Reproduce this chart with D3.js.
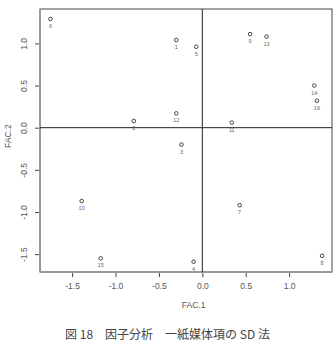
<!DOCTYPE html>
<html>
<head>
<meta charset="utf-8">
<script src="https://cdn.jsdelivr.net/npm/d3@7"></script>
<style>
  body { margin: 0; background: #fff; }
  svg { display: block; }
</style>
</head>
<body>
<div id="chart"></div>
<script>
// factor scores
var labels = ["1", "2", "3", "4", "5", "6", "7", "8", "9", "10", "11", "12", "13", "14", "15", "16"];
var fac1 = [-0.30, -0.79, -0.24, -0.10, -0.07, -1.75, 0.43, 1.38, 0.55, -1.39, 0.34, -0.30, 0.74, 1.29, -1.17, 1.32];
var fac2 = [1.04, 0.08, -0.20, -1.59, 0.96, 1.29, -0.92, -1.52, 1.11, -0.87, 0.06, 0.17, 1.08, 0.50, -1.55, 0.32];
var xTicks = [-1.5, -1.0, -0.5, 0.0, 0.5, 1.0];
var yTicks = [-1.5, -1.0, -0.5, 0.0, 0.5, 1.0];
var caption = "図 18　因子分析　一紙媒体項の SD 法";

var W = 335, H = 342;
var margin = { top: 9, right: 3, bottom: 70, left: 40 },
    width = W - margin.left - margin.right,
    height = H - margin.top - margin.bottom;

var x = d3.scaleLinear().domain([-1.87, 1.494]).range([0, width]);
var y = d3.scaleLinear().domain([-1.712, 1.408]).range([height, 0]);

var svg = d3.select("#chart").append("svg")
    .attr("width", W)
    .attr("height", H);

var g = svg.append("g")
    .attr("transform", "translate(" + margin.left + "," + margin.top + ")");

// R prints a plain hyphen for negatives
var fmt = function(v) { return d3.format(".1f")(v).replace("\u2212", "-"); };

// X axis
var xAxis = g.append("g")
    .attr("transform", "translate(0," + height + ")")
    .call(d3.axisBottom(x).tickValues(xTicks).tickFormat(fmt).tickSize(5).tickPadding(6));
xAxis.select(".domain").remove();
xAxis.selectAll("line").attr("stroke", "#444");
xAxis.selectAll("text")
    .style("font-family", "Liberation Sans, Arial, sans-serif")
    .style("font-size", "8.5px")
    .attr("fill", "#555");

// Y axis, labels rotated like R
var yAxis = g.append("g")
    .call(d3.axisLeft(y).tickValues(yTicks).tickFormat(fmt).tickSize(5).tickPadding(0));
yAxis.select(".domain").remove();
yAxis.selectAll("line").attr("stroke", "#444");
yAxis.selectAll("text")
    .attr("x", 0).attr("dy", 0)
    .attr("text-anchor", "middle")
    .attr("transform", "translate(-13,0) rotate(-90)")
    .style("font-family", "Liberation Sans, Arial, sans-serif")
    .style("font-size", "8.5px")
    .attr("fill", "#555");

// box
g.append("rect")
    .attr("width", width)
    .attr("height", height)
    .attr("fill", "none")
    .attr("stroke", "#444")
    .attr("stroke-width", 1);
g.append("line")
    .attr("x1", 0).attr("x2", 0).attr("y1", 0).attr("y2", height)
    .attr("stroke", "#999").attr("stroke-width", 2);
g.append("line")
    .attr("x1", 0).attr("x2", width).attr("y1", height).attr("y2", height)
    .attr("stroke", "#999").attr("stroke-width", 2);

// zero lines
g.append("line")
    .attr("x1", x(0)).attr("x2", x(0)).attr("y1", 0).attr("y2", height)
    .attr("stroke", "#222");
g.append("line")
    .attr("x1", 0).attr("x2", width).attr("y1", y(0)).attr("y2", y(0))
    .attr("stroke", "#222");

// points
var data = labels.map(function(l, i) { return { label: l, a: fac1[i], b: fac2[i] }; });

g.selectAll("circle.pt")
    .data(data)
    .enter().append("circle")
    .attr("class", "pt")
    .attr("cx", function(d) { return x(d.a); })
    .attr("cy", function(d) { return y(d.b); })
    .attr("r", 1.8)
    .attr("fill", "none")
    .attr("stroke", "#333")
    .attr("stroke-width", 0.9);

g.selectAll("text.lab")
    .data(data)
    .enter().append("text")
    .attr("class", "lab")
    .attr("x", function(d) { return x(d.a); })
    .attr("y", function(d) { return y(d.b) + 9; })
    .attr("text-anchor", "middle")
    .text(function(d) { return d.label; })
    .style("font-family", "Liberation Sans, Arial, sans-serif")
    .style("font-size", "5.5px")
    .attr("fill", "#666");

// axis titles
svg.append("text")
    .attr("text-anchor", "middle")
    .attr("x", margin.left + x(-0.1))
    .attr("y", 308)
    .text("FAC.1")
    .style("font-family", "Liberation Sans, Arial, sans-serif")
    .style("font-size", "8.5px")
    .attr("fill", "#555");

svg.append("text")
    .attr("text-anchor", "middle")
    .attr("transform", "translate(11," + (margin.top + y(-0.1)) + ") rotate(-90)")
    .text("FAC.2")
    .style("font-family", "Liberation Sans, Arial, sans-serif")
    .style("font-size", "8.5px")
    .attr("fill", "#555");

// caption
svg.append("text")
    .attr("text-anchor", "middle")
    .attr("x", W / 2)
    .attr("y", 339)
    .text(caption)
    .style("font-family", "Noto Sans CJK JP, sans-serif")
    .style("font-size", "12px")
    .attr("fill", "#444");
</script>
</body>
</html>
